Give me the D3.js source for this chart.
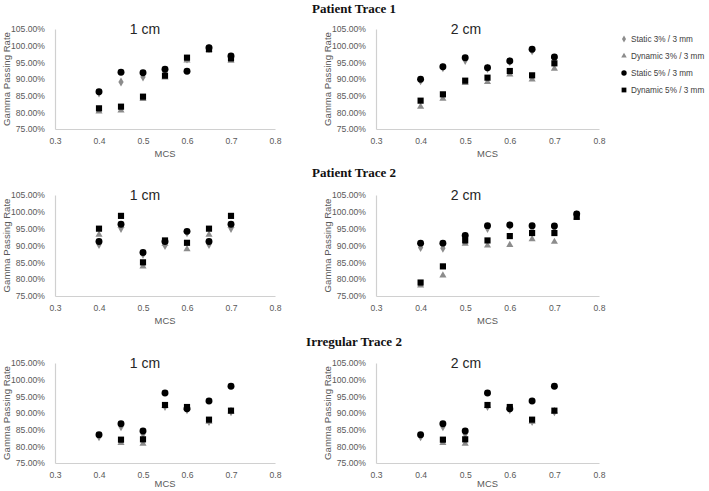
<!DOCTYPE html>
<html><head><meta charset="utf-8">
<script src="https://cdn.jsdelivr.net/npm/d3@7"></script>
<style>body{margin:0;background:#fff}svg{display:block}</style>
</head><body>
<svg id="c" width="709" height="491"></svg>
<script>
// ---- data ----
const rowTitles = ["Patient Trace 1", "Patient Trace 2", "Irregular Trace 2"];
const colTitles = ["1 cm", "2 cm"];
const seriesNames = ["Static 3% / 3 mm", "Dynamic 3% / 3 mm", "Static 5% / 3 mm", "Dynamic 5% / 3 mm"];
const xTicks = [0.3, 0.4, 0.5, 0.6, 0.7, 0.8];
const yTicks = [75, 80, 85, 90, 95, 100, 105];

const mcs7 = [0.4, 0.45, 0.5, 0.55, 0.6, 0.65, 0.7];
const mcs8 = [0.4, 0.45, 0.5, 0.55, 0.6, 0.65, 0.7, 0.75];

// Patient Trace 1, 1 cm
const pt1c1_static3  = [85.8, 89.1, 90.6, 92.4, 96.0, 99.2, 96.5];
const pt1c1_dynamic3 = [80.3, 80.6, 84.0, 90.5, 95.6, 98.8, 95.5];
const pt1c1_static5  = [86.2, 92.0, 91.9, 92.9, 92.3, 99.4, 96.9];
const pt1c1_dynamic5 = [81.2, 81.7, 84.7, 91.0, 96.4, 98.9, 96.2];
// Patient Trace 1, 2 cm
const pt1c2_static3  = [89.5, 93.4, 95.6, 93.2, 95.2, 98.5, 96.0];
const pt1c2_dynamic3 = [81.7, 84.1, 88.8, 89.1, 91.4, 89.9, 93.1];
const pt1c2_static5  = [89.9, 93.7, 96.4, 93.4, 95.4, 98.9, 96.6];
const pt1c2_dynamic5 = [83.5, 85.4, 89.5, 90.4, 92.4, 91.1, 94.7];
// Patient Trace 2, 1 cm
const pt2c1_static3  = [90.3, 95.1, 87.4, 90.0, 93.8, 90.3, 95.1];
const pt2c1_dynamic3 = [93.2, 95.8, 83.8, 90.5, 88.9, 93.2, 95.8];
const pt2c1_static5  = [91.2, 96.3, 87.9, 91.2, 94.2, 91.2, 96.3];
const pt2c1_dynamic5 = [95.0, 98.8, 85.0, 91.5, 90.8, 95.0, 98.8];
// Patient Trace 2, 2 cm
const pt2c2_static3  = [89.4, 89.2, 92.2, 95.1, 95.9, 95.2, 95.2, 99.1];
const pt2c2_dynamic3 = [78.1, 81.1, 90.5, 90.0, 90.2, 91.9, 91.1, 98.3];
const pt2c2_static5  = [90.7, 90.7, 93.0, 95.9, 96.1, 95.9, 95.8, 99.4];
const pt2c2_dynamic5 = [79.0, 83.8, 91.5, 91.5, 92.8, 93.7, 93.7, 98.5];
// Irregular Trace 2 (1 cm and 2 cm)
const irr_static3  = [82.9, 85.9, 83.7, 92.0, 91.0, 87.5, 90.4];
const irr_dynamic3 = [null, 81.0, 80.8, 92.1, 91.5, 87.4, 90.5];
const irr_static5  = [83.5, 86.8, 84.6, 96.0, 91.3, 93.6, 98.0];
const irr_dynamic5 = [null, 82.0, 82.1, 92.4, 91.8, 88.0, 90.7];

const panelData = [
  [ {x: mcs7, s: [pt1c1_static3, pt1c1_dynamic3, pt1c1_static5, pt1c1_dynamic5]},
    {x: mcs7, s: [pt1c2_static3, pt1c2_dynamic3, pt1c2_static5, pt1c2_dynamic5]} ],
  [ {x: mcs7, s: [pt2c1_static3, pt2c1_dynamic3, pt2c1_static5, pt2c1_dynamic5]},
    {x: mcs8, s: [pt2c2_static3, pt2c2_dynamic3, pt2c2_static5, pt2c2_dynamic5]} ],
  [ {x: mcs7, s: [irr_static3, irr_dynamic3, irr_static5, irr_dynamic5]},
    {x: mcs7, s: [irr_static3, irr_dynamic3, irr_static5, irr_dynamic5]} ]
];

// ---- layout / style ----
const colX = [[55, 275], [376, 599]];
const rowY = [[29, 129], [195, 296], [363, 463]];
const rowTitleY = [8, 172, 341];
const mcsOffset = [25, 25, 21];
const symTypes = [d3.symbolDiamond, d3.symbolTriangle, d3.symbolCircle, d3.symbolSquare];
const symSizes = [24, 22, 38, 38];
const symColors = ["#8c8c8c", "#8c8c8c", "#000", "#000"];
const tickFont = "Liberation Sans, Arial, sans-serif";

const svg = d3.select("#c");

rowTitles.forEach((t, r) => {
  svg.append("text").attr("x", 354).attr("y", rowTitleY[r]).attr("dy", "0.35em")
    .attr("text-anchor", "middle").attr("font-family", "Liberation Serif, Times New Roman, serif")
    .attr("font-weight", "bold").attr("font-size", 13).attr("fill", "#111").text(t);
});

panelData.forEach((row, r) => {
  row.forEach((p, c) => {
    const x = d3.scaleLinear().domain([0.3, 0.8]).range(colX[c]);
    const y = d3.scaleLinear().domain([75, 105]).range([rowY[r][1], rowY[r][0]]);
    const g = svg.append("g");

    const ya = g.append("g").attr("transform", `translate(${colX[c][0]},0)`)
      .call(d3.axisLeft(y).tickValues(yTicks).tickSize(0).tickPadding(10)
        .tickFormat(d => d3.format(".2f")(d) + "%"));
    const xa = g.append("g").attr("transform", `translate(0,${rowY[r][1]})`)
      .call(d3.axisBottom(x).tickValues(xTicks).tickSize(0).tickPadding(9)
        .tickFormat(d3.format("")));
    [ya, xa].forEach(a => {
      a.select(".domain").attr("stroke", "#d0d0d0").attr("stroke-width", 1.2);
      a.selectAll("text").attr("font-family", tickFont).attr("font-size", 8.6).attr("fill", "#595959");
    });

    g.append("text").attr("transform", `translate(${colX[c][0] - 48},${(rowY[r][0] + rowY[r][1]) / 2}) rotate(-90)`)
      .attr("text-anchor", "middle").attr("dy", "0.35em")
      .attr("font-family", tickFont).attr("font-size", 9.6).attr("fill", "#595959").text("Gamma Passing Rate");
    g.append("text").attr("x", (colX[c][0] + colX[c][1]) / 2).attr("y", rowY[r][1] + mcsOffset[r]).attr("dy", "0.35em")
      .attr("text-anchor", "middle").attr("font-family", tickFont).attr("font-size", 9.4)
      .attr("fill", "#595959").text("MCS");
    g.append("text").attr("x", colX[c][0] + 90).attr("y", rowY[r][0]).attr("dy", "0.35em")
      .attr("text-anchor", "middle").attr("font-family", tickFont).attr("font-size", 14)
      .attr("fill", "#262626").text(colTitles[c]);

    p.s.forEach((vals, si) => {
      const pts = p.x.map((m, i) => ({m, v: vals[i]})).filter(d => d.v != null);
      g.append("g").selectAll("path").data(pts).join("path")
        .attr("transform", d => `translate(${x(d.m)},${y(d.v)})`)
        .attr("d", d3.symbol().type(symTypes[si]).size(symSizes[si]))
        .attr("fill", symColors[si]);
    });
  });
});

// legend
const lg = svg.append("g");
seriesNames.forEach((n, i) => {
  const yy = 39 + i * 17;
  lg.append("path").attr("transform", `translate(624,${yy})`)
    .attr("d", d3.symbol().type(symTypes[i]).size(symSizes[i] * 0.6)).attr("fill", symColors[i]);
  lg.append("text").attr("x", 631).attr("y", yy).attr("dy", "0.35em")
    .attr("font-family", tickFont).attr("font-size", 8.2).attr("fill", "#404040").text(n);
});
</script>
</body></html>
